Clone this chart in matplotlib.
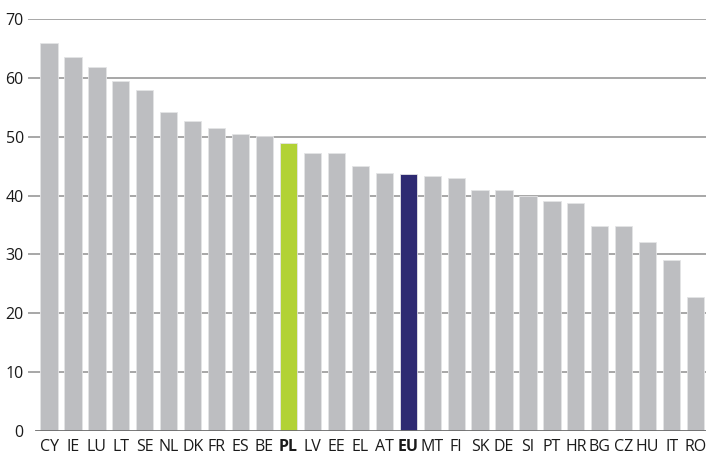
import matplotlib
matplotlib.use("Agg")
import matplotlib.pyplot as plt

countries = ["CY", "IE", "LU", "LT", "SE", "NL", "DK", "FR", "ES", "BE", "PL", "LV", "EE", "EL",
             "AT", "EU", "MT", "FI", "SK", "DE", "SI", "PT", "HR", "BG", "CZ", "HU", "IT", "RO"]
values = [66.0, 63.6, 61.8, 59.4, 57.9, 54.2, 52.6, 51.4, 50.5, 50.1, 49.0, 47.3, 47.2, 45.1,
          43.9, 43.7, 43.3, 43.0, 41.0, 40.9, 39.9, 39.1, 38.8, 34.9, 34.8, 32.1, 29.1, 22.7]
highlight = {"PL": "#b2d235", "EU": "#2e2a72"}
yticks = [0, 10, 20, 30, 40, 50, 60, 70]

plt.rcParams['font.family'] = ['Open Sans', 'DejaVu Sans']

fig = plt.figure(figsize=(7.06, 4.61), dpi=100)
ax = fig.add_axes([0.0397, 0.065, 0.9603, 0.8938])

colors = [highlight.get(c, "#bdbec1") for c in countries]
x = range(len(countries))
ax.bar(x, values, width=0.72, color=colors, edgecolor="#e4e4e6", linewidth=0.6, zorder=3)

for t in yticks[1:]:
    ax.axhline(t, color="#a0a0a0", linewidth=1.3, zorder=1)
ax.axhline(0, color="#6e6e6e", linewidth=1.3, xmin=0.012, zorder=4)

ax.set_xlim(-0.877, 27.434)
ax.set_ylim(0, 70)
ax.set_yticks(yticks)
ax.set_xticks(list(x))
ax.set_xticklabels(countries)
for lbl in ax.get_xticklabels():
    if lbl.get_text() in highlight:
        lbl.set_fontweight("bold")
ax.tick_params(axis="both", length=0, labelsize=11.5, colors="#1a1a1a")
ax.tick_params(axis="y", pad=3)
ax.tick_params(axis="x", pad=6)
for s in ax.spines.values():
    s.set_visible(False)

fig.savefig("out.png", dpi=100)
